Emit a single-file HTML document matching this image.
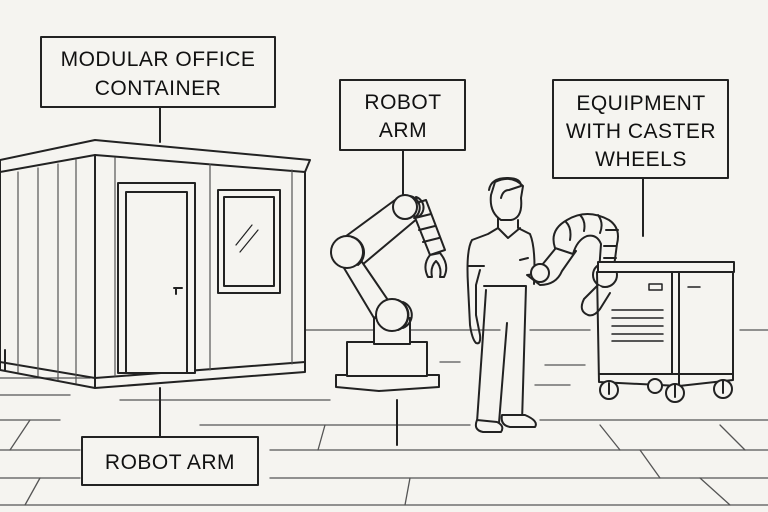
<!DOCTYPE html>
<html><head><style>
html,body{margin:0;padding:0;background:#f5f4f0;}
svg{display:block}
text{font-family:"Liberation Sans",sans-serif;font-size:21px;fill:#111;letter-spacing:0.5px}
</style></head><body>
<svg width="768" height="512" viewBox="0 0 768 512" xmlns="http://www.w3.org/2000/svg">
<rect width="768" height="512" fill="#f5f4f0"/>
<g stroke="#222" stroke-width="2" fill="none" stroke-linecap="round" stroke-linejoin="round">
<!-- floor lines -->
<g stroke="#555" stroke-width="1.3">
<line x1="305" y1="330" x2="500" y2="330"/><line x1="530" y1="330" x2="590" y2="330"/><line x1="740" y1="330" x2="768" y2="330"/>
<line x1="0" y1="378" x2="90" y2="378"/><line x1="0" y1="395" x2="70" y2="395"/><line x1="120" y1="400" x2="330" y2="400"/>
<line x1="0" y1="420" x2="60" y2="420"/><line x1="200" y1="425" x2="470" y2="425"/><line x1="540" y1="420" x2="768" y2="420"/>
<line x1="0" y1="450" x2="80" y2="450"/><line x1="270" y1="450" x2="768" y2="450"/>
<line x1="0" y1="478" x2="80" y2="478"/><line x1="270" y1="478" x2="768" y2="478"/>
<line x1="0" y1="505" x2="768" y2="505"/>
<line x1="440" y1="362" x2="460" y2="362"/><line x1="545" y1="365" x2="585" y2="365"/><line x1="535" y1="385" x2="570" y2="385"/>
<line x1="30" y1="420" x2="10" y2="450"/><line x1="325" y1="425" x2="318" y2="450"/><line x1="600" y1="425" x2="620" y2="450"/>
<line x1="720" y1="425" x2="745" y2="450"/><line x1="640" y1="450" x2="660" y2="478"/><line x1="410" y1="478" x2="405" y2="505"/>
<line x1="700" y1="478" x2="730" y2="505"/><line x1="40" y1="478" x2="25" y2="505"/>
</g>
<!-- container -->
<polygon points="0,160 95,140 310,160 305,172 95,155 0,172" fill="#f5f4f0"/>
<line x1="95" y1="155" x2="95" y2="388"/>
<line x1="0" y1="172" x2="0" y2="370"/>
<polyline points="0,370 95,388 305,372 305,172"/>
<polyline points="0,362 95,378 305,362"/>
<g stroke-width="1.2" stroke="#555">
<line x1="18" y1="172" x2="18" y2="372"/><line x1="38" y1="168" x2="38" y2="376"/><line x1="58" y1="164" x2="58" y2="380"/><line x1="76" y1="160" x2="76" y2="383"/>
<line x1="115" y1="158" x2="115" y2="376"/><line x1="210" y1="164" x2="210" y2="370"/><line x1="292" y1="170" x2="292" y2="364"/>
</g>
<rect x="118" y="183" width="77" height="190" fill="#f5f4f0"/>
<rect x="126" y="192" width="61" height="181"/>
<path d="M174 288 h8 M176 288 v6"/>
<rect x="218" y="190" width="62" height="103" fill="#f5f4f0"/>
<rect x="224" y="197" width="50" height="89"/>
<line x1="236" y1="245" x2="252" y2="225" stroke-width="1.2"/><line x1="240" y1="252" x2="258" y2="230" stroke-width="1.2"/>
<!-- connectors -->
<line x1="160" y1="107" x2="160" y2="142"/>
<line x1="403" y1="150" x2="403" y2="194"/>
<line x1="643" y1="178" x2="643" y2="236"/>
<line x1="160" y1="388" x2="160" y2="437"/>
<line x1="397" y1="400" x2="397" y2="445"/>
<line x1="5" y1="350" x2="5" y2="370"/>
<!-- robot arm 1 -->
<path d="M336 375 h103 v12 l-60 4 -43 -4 z" fill="#f5f4f0"/>
<rect x="347" y="342" width="80" height="34" fill="#f5f4f0"/>
<path d="M352 342 h72"/>
<rect x="374" y="318" width="36" height="26" fill="#f5f4f0"/>
<polygon points="338,242 395,200 418,218 362,265" fill="#f5f4f0"/>
<polygon points="338,258 362,262 392,306 374,318" fill="#f5f4f0"/>
<circle cx="392" cy="315" r="16" fill="#f5f4f0"/><path d="M398 300 a16 16 0 0 1 0 30 M403 302 a14 14 0 0 1 0 26"/>
<circle cx="347" cy="252" r="16" fill="#f5f4f0"/><path d="M352 237 a16 16 0 0 1 6 28"/>
<polygon points="410,205 426,200 445,250 430,255" fill="#f5f4f0"/>
<path d="M415 218 l16 -4 M419 230 l16 -4 M423 242 l16 -4"/>
<circle cx="405" cy="207" r="12" fill="#f5f4f0"/><path d="M410 196 a12 12 0 0 1 4 22 M416 197 a11 11 0 0 1 2 20"/>
<path d="M430 255 q-8 10 -2 22 h4 q-2 -10 4 -16 q6 6 4 16 h4 q6 -12 -4 -24 z" fill="#f5f4f0"/>
<!-- person -->
<path d="M495 182 q16 -8 28 4 l-2 12 q2 20 -10 22 h-10 q-12 -8 -10 -25 z" fill="#f5f4f0"/>
<path d="M489 190 q2 -12 18 -12 q14 0 14 8 l-12 4 q-6 0 -8 8" />
<path d="M498 218 v10 l-10 6 -16 6 q-6 10 -4 45 l2 40 q2 14 6 18 q5 2 4 -8 l-4 -20 v-30 l4 -15 M518 220 v8 l12 6 q6 14 4 50"/>
<path d="M498 228 l10 10 l12 -10"/>
<path d="M468 266 h16 M528 258 l-8 2"/>
<path d="M486 290 l-4 60 l-5 72 M484 286 h42 l-4 136 M507 323 l-8 100"/>
<path d="M477 420 q-4 10 6 12 h18 q4 -6 -4 -10 z M502 415 q-2 10 8 12 h25 q4 -6 -10 -12 z" fill="#f5f4f0"/>
<!-- robot arm 2 -->
<path d="M527 275 q10 0 15 -10 l18 -22 l16 8 l-14 20 q-6 14 -22 14 z" fill="#f5f4f0"/>
<circle cx="540" cy="273" r="9" fill="#f5f4f0"/>
<path d="M555 248 q-6 -18 12 -28 q20 -12 42 0 q12 8 8 24 l-4 30 l-14 -2 2 -28 q-4 -10 -14 -8 q-10 4 -14 18 z" fill="#f5f4f0"/>
<path d="M566 222 q6 6 4 18 M580 215 q6 6 4 16 M598 215 q6 8 2 18 M606 230 h12 M604 246 h12 M604 258 h12"/>
<circle cx="605" cy="275" r="12" fill="#f5f4f0"/>
<path d="M598 285 l-14 14 q-6 12 4 16 q6 2 12 -6 l10 -16" fill="#f5f4f0"/>
<!-- cart -->
<path d="M598 262 h136 v10 h-136 z" fill="#f5f4f0"/>
<path d="M597 272 l2 110 l80 4 l54 -6 v-108"/>
<line x1="679" y1="272" x2="679" y2="386"/>
<line x1="672" y1="272" x2="672" y2="374"/>
<path d="M599 374 l73 0 h61"/>
<g stroke-width="1.5"><line x1="612" y1="310" x2="663" y2="310"/><line x1="612" y1="318" x2="663" y2="318"/><line x1="612" y1="326" x2="663" y2="326"/><line x1="612" y1="334" x2="663" y2="334"/><line x1="612" y1="341" x2="663" y2="341"/>
<rect x="649" y="284" width="13" height="6"/><line x1="688" y1="287" x2="700" y2="287"/></g>
<circle cx="609" cy="390" r="9" fill="#f5f4f0"/><line x1="609" y1="383" x2="609" y2="394"/>
<circle cx="655" cy="386" r="7" fill="#f5f4f0"/>
<circle cx="675" cy="393" r="9" fill="#f5f4f0"/><line x1="675" y1="385" x2="675" y2="397"/>
<circle cx="723" cy="389" r="9" fill="#f5f4f0"/><line x1="723" y1="381" x2="723" y2="393"/>
<!-- label boxes -->
<rect x="41" y="37" width="234" height="70" fill="#f5f4f0"/>
<rect x="340" y="80" width="125" height="70" fill="#f5f4f0"/>
<rect x="553" y="80" width="175" height="98" fill="#f5f4f0"/>
<rect x="82" y="437" width="176" height="48" fill="#f5f4f0"/>
</g>
<text x="158" y="66" text-anchor="middle">MODULAR OFFICE</text>
<text x="158" y="95" text-anchor="middle">CONTAINER</text>
<text x="403" y="109" text-anchor="middle">ROBOT</text>
<text x="403" y="137" text-anchor="middle">ARM</text>
<text x="641" y="110" text-anchor="middle">EQUIPMENT</text>
<text x="641" y="138" text-anchor="middle">WITH CASTER</text>
<text x="641" y="166" text-anchor="middle">WHEELS</text>
<text x="170" y="469" text-anchor="middle">ROBOT ARM</text>
</svg>
</body></html>
